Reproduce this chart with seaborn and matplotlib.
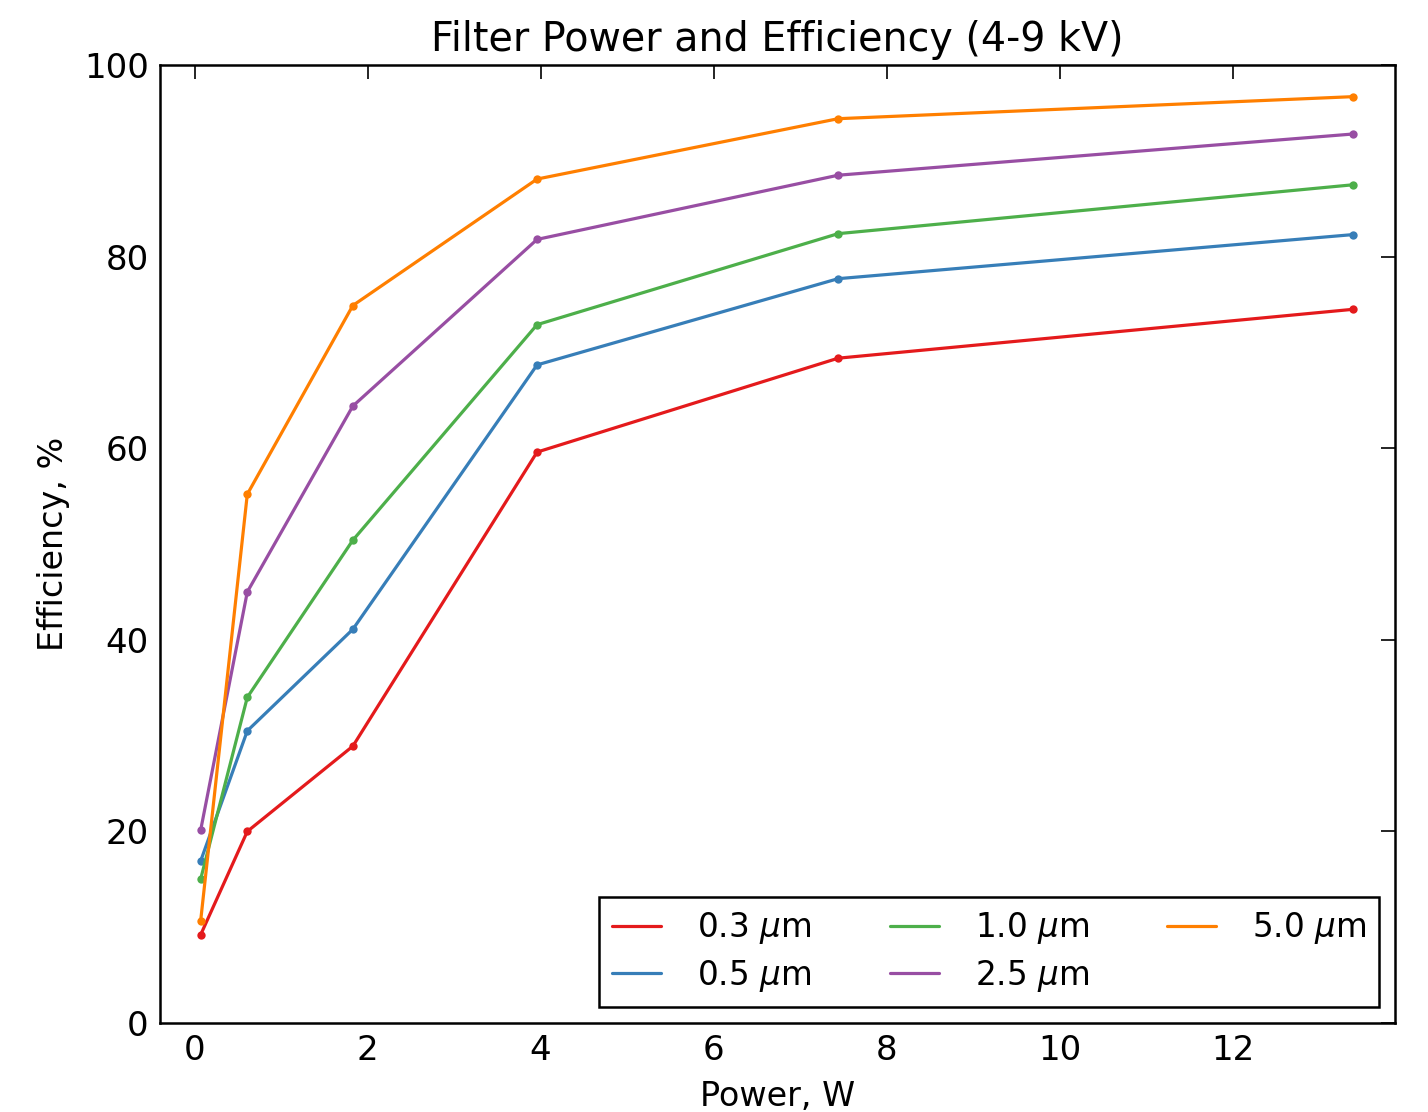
import numpy as np
import pandas as pd
import matplotlib
matplotlib.use("Agg")
import matplotlib.pyplot as plt
import seaborn as sns

power = [0.07, 0.61, 1.83, 3.96, 7.44, 13.39]
sizes = ["0.3 $\\mu$m", "0.5 $\\mu$m", "1.0 $\\mu$m", "2.5 $\\mu$m", "5.0 $\\mu$m"]
eff_03 = [9.2, 20.0, 28.9, 59.6, 69.4, 74.5]
eff_05 = [16.9, 30.5, 41.1, 68.7, 77.7, 82.3]
eff_10 = [15.0, 34.0, 50.4, 72.9, 82.4, 87.5]
eff_25 = [20.1, 45.0, 64.4, 81.8, 88.5, 92.8]
eff_50 = [10.6, 55.2, 74.9, 88.1, 94.4, 96.7]
colors = ["#e41a1c", "#377eb8", "#4daf4a", "#984ea3", "#ff7f00"]

rows = []
for name, vals in zip(sizes, [eff_03, eff_05, eff_10, eff_25, eff_50]):
    for p, v in zip(power, vals):
        rows.append({"Power": p, "Efficiency": v, "Size": name})
df = pd.DataFrame(rows)

sns.set_style("white")
plt.rcParams.update({
    "font.family": ["DejaVu Sans"],
    "text.color": "black",
    "axes.labelcolor": "black",
    "xtick.color": "black",
    "ytick.color": "black",
    "xtick.direction": "in",
    "ytick.direction": "in",
    "xtick.top": True,
    "ytick.right": True,
    "xtick.major.size": 10,
    "ytick.major.size": 10,
    "xtick.major.width": 1.2,
    "ytick.major.width": 1.2,
    "axes.edgecolor": "black",
    "axes.linewidth": 1.8,
})

fig = plt.figure(figsize=(14.28, 11.12), dpi=100)
ax = fig.add_axes([0.112, 0.080, 0.865, 0.8615])

sns.lineplot(data=df, x="Power", y="Efficiency", hue="Size", hue_order=sizes,
             palette=colors, marker="o", markersize=6, markeredgewidth=0,
             linewidth=2.3, ax=ax)

ax.set_xlim(-0.4, 13.88)
ax.set_ylim(0, 100)
ax.set_xticks([0, 2, 4, 6, 8, 10, 12])
ax.set_yticks([0, 20, 40, 60, 80, 100])
ax.tick_params(labelsize=24.5, pad=8, colors="black")
ax.set_xlabel("Power, W", fontsize=24, labelpad=9)
ax.set_ylabel("Efficiency, %", fontsize=24, labelpad=10)
ax.set_title("Filter Power and Efficiency (4-9 kV)", fontsize=28.5, pad=10)

leg = ax.legend(loc="lower right", ncol=3, fontsize=23.5, frameon=True,
                fancybox=False, edgecolor="black", handlelength=1.5,
                columnspacing=2.4, borderaxespad=0.5, handletextpad=1.1,
                labelspacing=0.35, framealpha=1)
leg.get_frame().set_linewidth(1.8)
leg.get_frame().set_edgecolor("black")
for t in leg.get_texts():
    t.set_color("black")
for h in leg.get_lines():
    h.set_marker("")
    h.set_linewidth(2.3)

fig.savefig("out.png", dpi=100)
